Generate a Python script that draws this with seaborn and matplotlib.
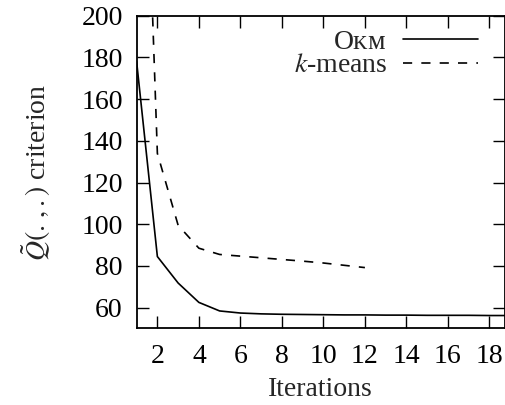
import matplotlib
matplotlib.use("Agg")
import matplotlib.pyplot as plt
import seaborn as sns
import pandas as pd

iters_okm = list(range(1, 20))
okm = [178, 84.5, 71.8, 62.5, 58.4, 57.4, 57.0, 56.8, 56.7, 56.6, 56.5, 56.5,
       56.4, 56.4, 56.3, 56.3, 56.3, 56.2, 56.2]
iters_km = list(range(1, 13))
kmeans = [420, 134, 99.5, 88.5, 85.5, 84.7, 83.9, 83.1, 82.3, 81.4, 80.3, 79.2]

xticks = [2, 4, 6, 8, 10, 12, 14, 16, 18]
yticks = [60, 80, 100, 120, 140, 160, 180, 200]

sns.set_theme(style="ticks")
plt.rcParams['font.family'] = ['Liberation Serif', 'DejaVu Serif']
plt.rcParams['mathtext.fontset'] = 'stix'

FS = 20

fig = plt.figure(figsize=(5.06, 4.05), dpi=100)
ax = fig.add_axes([0.270, 0.189, 0.728, 0.772])

df1 = pd.DataFrame({"x": iters_okm, "y": okm})
df2 = pd.DataFrame({"x": iters_km, "y": kmeans})
sns.lineplot(data=df1, x="x", y="y", ax=ax, color="black", lw=1.2)
sns.lineplot(data=df2, x="x", y="y", ax=ax, color="black", lw=1.2,
             linestyle=(0, (5.5, 5.5)))
lines = ax.get_lines()

ax.set_xlim(1, 18.75)
ax.set_ylim(50, 200)
ax.set_xticks(xticks)
ax.set_yticks(yticks)
ax.tick_params(direction="in", length=8.5, width=1, labelsize=FS,
               top=True, right=True, colors="black")
ax.tick_params(axis="y", pad=10)
ax.tick_params(axis="x", pad=11)
for s in ax.spines.values():
    s.set_visible(True)
    s.set_linewidth(1.3)
    s.set_color("black")

ax.set_xlabel("Iterations", fontsize=FS, labelpad=6)
ax.set_ylabel(r"$\tilde{Q}(.\,,.)$ criterion", fontsize=FS, labelpad=20)

common = dict(markerfirst=False, frameon=False, fontsize=FS, handlelength=2.7,
              borderaxespad=0, borderpad=0, handletextpad=0.58,
              bbox_transform=ax.transAxes, loc="center right")
leg1 = ax.legend([lines[0]], ["O\u1d0b\u1d0d"],
                 bbox_to_anchor=(0.927, 0.916, 0, 0), **common)
ax.add_artist(leg1)
leg2 = ax.legend([lines[1]], ["$k$-means"],
                 bbox_to_anchor=(0.927, 0.841, 0, 0), **common)

fig.savefig("out.png", dpi=100)
